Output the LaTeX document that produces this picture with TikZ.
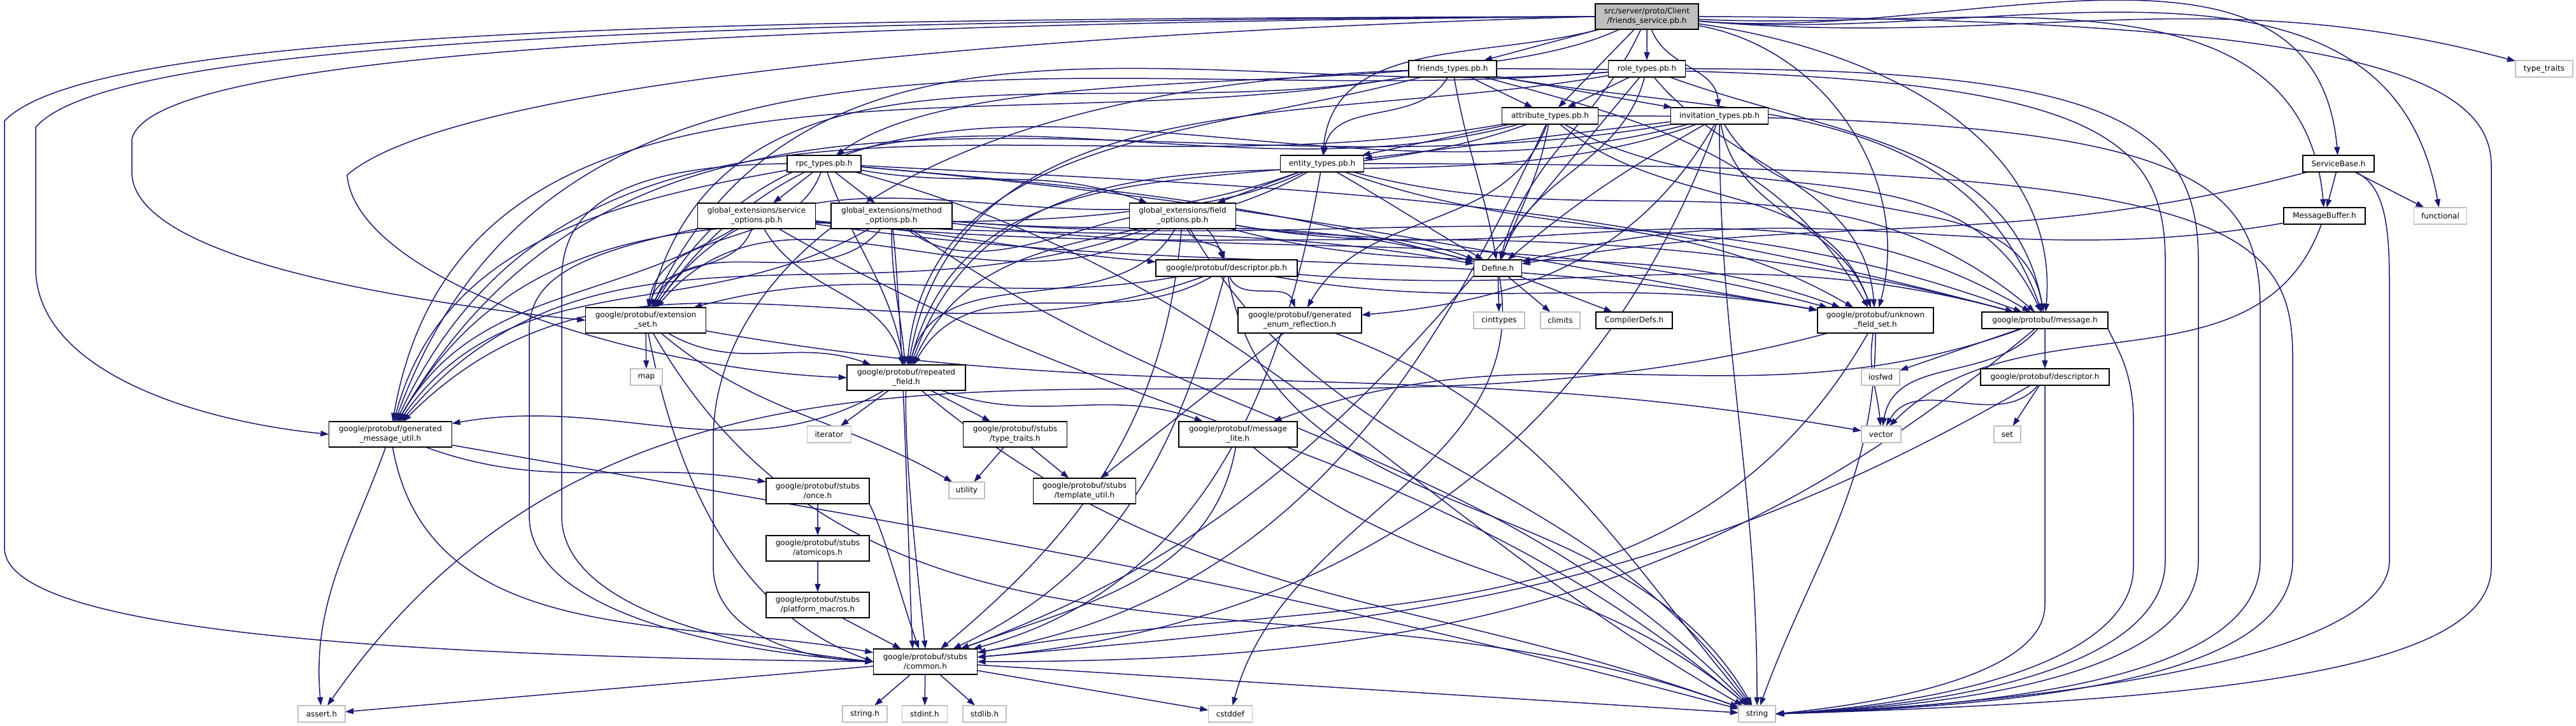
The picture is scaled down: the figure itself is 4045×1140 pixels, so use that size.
\documentclass[tikz,border=0pt]{standalone}
\usepackage{fontspec}
\setmainfont{DejaVu Sans}
\usetikzlibrary{arrows.meta}
\pgfdeclarelayer{bg}
\pgfsetlayers{bg,main}
\definecolor{edgec}{HTML}{191970}
\definecolor{sysgray}{HTML}{BFBFBF}
\tikzset{
  fb/.style={draw=black, fill=white, line width=0.3pt, inner sep=0pt, align=center,
             font=\fontsize{12}{15}\selectfont, scale=0.2, transform shape},
  sb/.style={fb, draw=sysgray},
  rb/.style={fb, fill=sysgray},
  e/.style={draw=edgec, line width=0.3pt, -{Triangle[length=2.6pt,width=1.8pt]}},
}
\newcommand{\strroute}[3]{\draw[e] (#1) .. controls (#3-150,#2) and (#3,#2-80) .. (#3,#2-300) -- (#3,260) .. controls (#3,100) and (#3-300,35) .. (string.east);}
\begin{document}
\begin{tikzpicture}[x=0.2pt,y=0.2pt]
\useasboundingbox (0,0) rectangle (4045,1140);
% nodes
\node[rb, minimum width=162pt, minimum height=40pt] (root) at (2586,1114) {src/server/proto/Client\\/friends\_service.pb.h};
\node[fb, minimum width=138pt, minimum height=26pt] (friends) at (2281,1032) {friends\_types.pb.h};
\node[fb, minimum width=121pt, minimum height=26pt] (role) at (2586,1032) {role\_types.pb.h};
\node[fb, minimum width=151pt, minimum height=26pt] (attr) at (2434,958) {attribute\_types.pb.h};
\node[fb, minimum width=153pt, minimum height=26pt] (invit) at (2700,958) {invitation\_types.pb.h};
\node[fb, minimum width=131pt, minimum height=26pt] (entity) at (2076,883) {entity\_types.pb.h};
\node[fb, minimum width=116pt, minimum height=26pt] (rpc) at (1294,883) {rpc\_types.pb.h};
\node[fb, minimum width=185pt, minimum height=40pt] (svcopt) at (1188,801) {global\_extensions/service\\\_options.pb.h};
\node[fb, minimum width=190pt, minimum height=40pt] (methopt) at (1400,801) {global\_extensions/method\\\_options.pb.h};
\node[fb, minimum width=167pt, minimum height=40pt] (fieldopt) at (1857,801) {global\_extensions/field\\\_options.pb.h};
\node[fb, minimum width=222pt, minimum height=26pt] (descpb) at (1926,719) {google/protobuf/descriptor.pb.h};
\node[fb, minimum width=75pt, minimum height=26pt] (define) at (2352,719) {Define.h};
\node[fb, minimum width=189pt, minimum height=40pt] (extset) at (1014,637) {google/protobuf/extension\\\_set.h};
\node[fb, minimum width=194pt, minimum height=40pt] (genenum) at (2041,637) {google/protobuf/generated\\\_enum\_reflection.h};
\node[sb, minimum width=80pt, minimum height=26pt] (cinttypes) at (2354,637) {cinttypes};
\node[sb, minimum width=62pt, minimum height=26pt] (climits) at (2450,637) {climits};
\node[fb, minimum width=120pt, minimum height=26pt] (compdefs) at (2566,637) {CompilerDefs.h};
\node[fb, minimum width=182pt, minimum height=40pt] (unkfs) at (2945,637) {google/protobuf/unknown\\\_field\_set.h};
\node[fb, minimum width=198pt, minimum height=26pt] (message) at (3211,637) {google/protobuf/message.h};
\node[sb, minimum width=50pt, minimum height=26pt] (map) at (1015,548) {map};
\node[fb, minimum width=186pt, minimum height=40pt] (repfield) at (1423,547) {google/protobuf/repeated\\\_field.h};
\node[sb, minimum width=60pt, minimum height=26pt] (iosfwd) at (2953,548) {iosfwd};
\node[fb, minimum width=202pt, minimum height=26pt] (desch) at (3211,548) {google/protobuf/descriptor.h};
\node[fb, minimum width=193pt, minimum height=40pt] (genmsg) at (613,458) {google/protobuf/generated\\\_message\_util.h};
\node[sb, minimum width=69pt, minimum height=26pt] (iterator) at (1302,458) {iterator};
\node[fb, minimum width=163pt, minimum height=40pt] (stubtt) at (1594,458) {google/protobuf/stubs\\/type\_traits.h};
\node[fb, minimum width=186pt, minimum height=40pt] (msglite) at (1944,458) {google/protobuf/message\\\_lite.h};
\node[sb, minimum width=62pt, minimum height=26pt] (vector) at (2954,458) {vector};
\node[sb, minimum width=42pt, minimum height=26pt] (set) at (3152,458) {set};
\node[fb, minimum width=162pt, minimum height=40pt] (once) at (1284,369) {google/protobuf/stubs\\/once.h};
\node[sb, minimum width=56pt, minimum height=26pt] (utility) at (1518,370) {utility};
\node[fb, minimum width=161pt, minimum height=40pt] (tmplutil) at (1703,369) {google/protobuf/stubs\\/template\_util.h};
\node[fb, minimum width=162pt, minimum height=40pt] (atomic) at (1284,279) {google/protobuf/stubs\\/atomicops.h};
\node[fb, minimum width=162pt, minimum height=40pt] (platform) at (1284,190) {google/protobuf/stubs\\/platform\_macros.h};
\node[fb, minimum width=163pt, minimum height=40pt] (common) at (1453,101) {google/protobuf/stubs\\/common.h};
\node[sb, minimum width=74pt, minimum height=26pt] (assert) at (505,19) {assert.h};
\node[sb, minimum width=70pt, minimum height=26pt] (stringh) at (1358,19) {string.h};
\node[sb, minimum width=71pt, minimum height=26pt] (stdint) at (1452,19) {stdint.h};
\node[sb, minimum width=68pt, minimum height=26pt] (stdlib) at (1546,19) {stdlib.h};
\node[sb, minimum width=69pt, minimum height=26pt] (cstddef) at (1932,19) {cstddef};
\node[sb, minimum width=58pt, minimum height=26pt] (string) at (2759,19) {string};
\node[fb, minimum width=112pt, minimum height=26pt] (servicebase) at (3672,883) {ServiceBase.h};
\node[fb, minimum width=128pt, minimum height=26pt] (msgbuf) at (3650,801) {MessageBuffer.h};
\node[sb, minimum width=83pt, minimum height=26pt] (functional) at (3832,801) {functional};
\node[sb, minimum width=90pt, minimum height=26pt] (typetraits) at (3995,1032) {type\_traits};

\begin{pgfonlayer}{bg}
% root
\draw[e] (root) -- (friends);
\draw[e] (root) -- (role);
\draw[e] (root) -- (attr);
\draw[e] (root) to[out=-70,in=95] (invit);
\draw[e] (root) to[out=195,in=85] (entity);
\draw[e] (root) to[out=205,in=35,looseness=0.6] (rpc);
\draw[e] (root) to[out=-115,in=75] (define);
\draw[e] (root) to[out=-5,in=95] (servicebase);
\draw[e] (root) to[out=-3,in=95] (msgbuf);
\draw[e] (root) to[out=-5,in=100] (functional);
\draw[e] (root) to[out=-5,in=165] (typetraits);
\draw[e] (root.east) .. controls (3650,1110) and (3912,1030) .. (3912,880) -- (3912,250) .. controls (3912,90) and (3500,40) .. (string.east);
\draw[e] (root.west) .. controls (1200,1110) and (150,1100) .. (7,950) -- (7,280) .. controls (7,150) and (600,110) .. (common.west);
\draw[e] (root.west) .. controls (1200,1106) and (180,1085) .. (56,940) -- (56,720) .. controls (56,560) and (300,480) .. (genmsg.west);
\draw[e] (root.west) .. controls (1200,1102) and (230,1060) .. (207,920) -- (207,870) .. controls (207,740) and (600,670) .. (extset.west);
\draw[e] (root.west) .. controls (1500,1085) and (700,1000) .. (545,865) .. controls (560,700) and (1000,560) .. (repfield.west);
\draw[e] (root) to[out=-10,in=75] (unkfs);
\draw[e] (root) to[out=-8,in=85] (message);
% friends
\draw[e] (friends) -- (attr);
\draw[e] (friends) -- (invit);
\draw[e] (friends) to[out=-120,in=80] (entity);
\draw[e] (friends) to[out=-80,in=100] (define);
\draw[e] (friends) to[out=190,in=80] (genmsg);
\draw[e] (friends) to[out=190,in=75] (extset);
\draw[e] (friends) to[out=195,in=85] (repfield);
\draw[e] (friends) .. controls (1400,1000) and (1120,700) .. (1120,450) -- (1120,250) .. controls (1120,150) and (1250,105) .. (common.west);
\draw[e] (friends) to[out=-15,in=120] (unkfs);
\draw[e] (friends) to[out=-10,in=110] (message);
\strroute{friends.east}{1032}{3400}
% role
\draw[e] (role) -- (attr);
\draw[e] (role) to[out=-105,in=70] (define);
\draw[e] (role) to[out=185,in=70] (genmsg);
\draw[e] (role) to[out=185,in=65] (extset);
\draw[e] (role) to[out=190,in=80] (repfield);
\draw[e] (role) to[out=-130,in=20] (common);
\draw[e] (role) to[out=-50,in=95] (unkfs);
\draw[e] (role) to[out=-20,in=100] (message);
\strroute{role.east}{1032}{3452}
% attr
\draw[e] (attr) -- (entity);
\draw[e] (attr) to[out=-100,in=70] (define);
\draw[e] (attr) to[out=-110,in=60] (genenum);
\draw[e] (attr) to[out=190,in=65] (genmsg);
\draw[e] (attr) to[out=195,in=60] (extset);
\draw[e] (attr) to[out=200,in=75] (repfield);
\draw[e] (attr) to[out=-115,in=10] (common);
\draw[e] (attr) to[out=-40,in=110] (unkfs);
\draw[e] (attr) to[out=-30,in=115] (message);
\strroute{attr.east}{958}{3549}
% invitation
\draw[e] (invit) -- (entity);
\draw[e] (invit) to[out=-150,in=40] (define);
\draw[e] (invit) to[out=-120,in=5] (genenum);
\draw[e] (invit) to[out=190,in=60] (genmsg);
\draw[e] (invit) to[out=195,in=55] (extset);
\draw[e] (invit) to[out=200,in=70] (repfield);
\draw[e] (invit) to[out=-110,in=5] (common);
\draw[e] (invit) to[out=-80,in=110] (unkfs);
\draw[e] (invit) to[out=-60,in=100] (message);
\draw[e] (invit) to[out=-90,in=90] (string);
% entity
\draw[e] (entity) -- (fieldopt);
\draw[e] (entity) to[out=-30,in=150] (define);
\draw[e] (entity) to[out=200,in=60] (genmsg);
\draw[e] (entity) to[out=205,in=55] (extset);
\draw[e] (entity) to[out=-150,in=65] (repfield);
\draw[e] (entity) to[out=-100,in=15] (common);
\draw[e] (entity) to[out=-20,in=150] (unkfs);
\draw[e] (entity) to[out=-15,in=140] (message);
\strroute{entity.east}{883}{3600}
% rpc
\draw[e] (rpc) -- (svcopt);
\draw[e] (rpc) -- (methopt);
\draw[e] (rpc) to[out=-10,in=160] (fieldopt);
\draw[e] (rpc) to[out=-5,in=165] (define);
\draw[e] (rpc) to[out=190,in=75] (genmsg);
\draw[e] (rpc) to[out=-110,in=80] (extset);
\draw[e] (rpc) to[out=-70,in=100] (repfield);
\draw[e] (rpc.west) .. controls (950,880) and (882,800) .. (882,700) -- (882,330) .. controls (882,200) and (1100,130) .. (common.west);
\draw[e] (rpc) to[out=-5,in=170] (unkfs);
\draw[e] (rpc) to[out=-3,in=165] (message);
\draw[e] (rpc) to[out=-15,in=150] (string);
% service options
\draw[e] (svcopt) to[out=-5,in=175] (descpb);
\draw[e] (svcopt) to[out=-5,in=170] (define);
\draw[e] (svcopt) to[out=-150,in=60] (genmsg);
\draw[e] (svcopt) to[out=-110,in=75] (extset);
\draw[e] (svcopt) to[out=-60,in=105] (repfield);
\draw[e] (svcopt.south west) .. controls (900,740) and (831,700) .. (831,620) -- (831,330) .. controls (831,190) and (1100,120) .. (common.west);
\draw[e] (svcopt) to[out=-8,in=170] (unkfs);
\draw[e] (svcopt) to[out=-6,in=165] (message);
\draw[e] (svcopt) to[out=-30,in=140] (string);
% method options
\draw[e] (methopt) to[out=-40,in=110] (descpb);
\draw[e] (methopt) to[out=-5,in=165] (define);
\draw[e] (methopt) to[out=-150,in=55] (genmsg);
\draw[e] (methopt) to[out=-130,in=65] (extset);
\draw[e] (methopt) to[out=-90,in=95] (repfield);
\draw[e] (methopt) .. controls (1420,600) and (1425,300) .. ([xshift=-4pt]common.north);
\draw[e] (methopt) to[out=-7,in=165] (unkfs);
\draw[e] (methopt) to[out=-5,in=160] (message);
\draw[e] (methopt) to[out=-35,in=135] (string);
% field options
\draw[e] (fieldopt) to[out=-70,in=105] (descpb);
\draw[e] (fieldopt) to[out=-10,in=160] (define);
\draw[e] (fieldopt) to[out=-160,in=50] (genmsg);
\draw[e] (fieldopt) to[out=-150,in=50] (extset);
\draw[e] (fieldopt) to[out=-120,in=75] (repfield);
\draw[e] (fieldopt) to[out=-95,in=40] (common);
\draw[e] (fieldopt) to[out=-15,in=160] (unkfs);
\draw[e] (fieldopt) to[out=-10,in=150] (message);
\draw[e] (fieldopt) to[out=-60,in=125] (string);
% descriptor.pb.h
\draw[e] (descpb) to[out=-70,in=110] (genenum);
\draw[e] (descpb) to[out=-160,in=45] (genmsg);
\draw[e] (descpb) to[out=190,in=15] (extset);
\draw[e] (descpb) to[out=-150,in=60] (repfield);
\draw[e] (descpb) to[out=-105,in=25] (common);
\draw[e] (descpb) to[out=-10,in=170] (unkfs);
\draw[e] (descpb) to[out=-5,in=165] (message);
\draw[e] (descpb) to[out=-80,in=120] (string);
% Define.h
\draw[e] (define) -- (cinttypes);
\draw[e] (define) -- (climits);
\draw[e] (define) -- (compdefs);
\draw[e] (define) to[out=-80,in=75] (cstddef);
% extension_set
\draw[e] (extset) -- (map);
\draw[e] (extset) to[out=-30,in=160] (repfield);
\draw[e] (extset) to[out=-10,in=170] (vector);
\draw[e] (extset) to[out=-40,in=150] (utility);
\draw[e] (extset) to[out=-60,in=160] (string);
\draw[e] (extset) .. controls (1060,400) and (1150,180) .. (common.west);
% repeated_field
\draw[e] (repfield) -- (iterator);
\draw[e] (repfield) -- (stubtt);
\draw[e] (repfield) to[out=-20,in=160] (msglite);
\draw[e] (repfield) to[out=-150,in=10] (genmsg);
\draw[e] (repfield) .. controls (1420,420) and (1440,250) .. (common.north);
\draw[e] (repfield) to[out=-40,in=160] (string);
% generated_message_util
\draw[e] (genmsg) to[out=-110,in=95] (assert);
\draw[e] (genmsg) to[out=-20,in=170] (once);
\draw[e] (genmsg) to[out=-80,in=170] (common);
\draw[e] (genmsg) to[out=-10,in=165] (string);
% stubs
\draw[e] (once) -- (atomic);
\draw[e] (once.south east) .. controls (1390,300) and (1415,200) .. ([xshift=-2pt]common.north);
\draw[e] (atomic) -- (platform);
\draw[e] (platform) -- (common);
\draw[e] (common) -- (stringh);
\draw[e] (common) -- (stdint);
\draw[e] (common) -- (stdlib);
\draw[e] (common) -- (cstddef);
\draw[e] (common) -- (assert);
\draw[e] (common) -- (string);
\draw[e] (stubtt) -- (utility);
\draw[e] (stubtt) -- (tmplutil);
\draw[e] (genenum) -- (tmplutil);
\draw[e] (genenum) to[out=-20,in=130] (string);
\draw[e] (msglite) to[out=-100,in=20] (common);
\draw[e] (msglite) to[out=-40,in=140] (string);
% message.h
\draw[e] (message) -- (iosfwd);
\draw[e] (message) -- (desch);
\draw[e] (message) to[out=-130,in=80] (vector);
\draw[e] (message) to[out=200,in=20] (msglite);
\draw[e] (message) to[out=-140,in=0] (common);
\draw[e] (message.south east) .. controls (3320,600) and (3350,560) .. (3350,480) -- (3350,250) .. controls (3350,100) and (3050,35) .. (string.east);
% descriptor.h
\draw[e] (desch) -- (set);
\draw[e] (desch) to[out=-130,in=60] (vector);
\draw[e] (desch) to[out=-150,in=5] (common);
\draw[e] (desch.south) -- (3211,190) .. controls (3211,90) and (3000,40) .. (string.east);
% unknown_field_set
\draw[e] (unkfs) to[out=-100,in=95] (vector);
\draw[e] (unkfs) to[out=-90,in=70] (string);
\draw[e] (unkfs) to[out=-120,in=10] (common);
\draw[e] (unkfs) to[out=195,in=55] (assert);
% ServiceBase / MessageBuffer
\draw[e] (servicebase) -- (msgbuf);
\draw[e] (servicebase) -- (functional);
\draw[e] (servicebase) to[out=195,in=10] (define);
\draw[e] (servicebase) .. controls (3740,850) and (3752,800) .. (3752,700) -- (3752,260) .. controls (3752,120) and (3300,40) .. (string.east);
\draw[e] (msgbuf) to[out=190,in=15] (define);
\draw[e] (msgbuf) to[out=-110,in=45] (vector);
\end{pgfonlayer}
\end{tikzpicture}
\end{document}
